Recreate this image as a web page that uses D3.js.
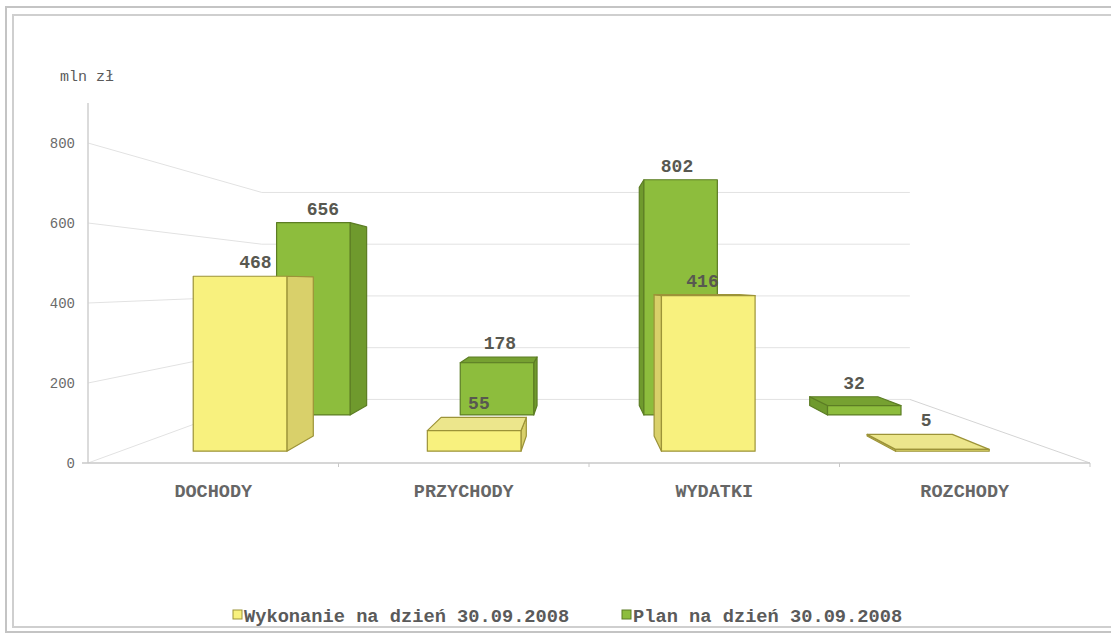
<!DOCTYPE html>
<html><head><meta charset="utf-8">
<script src="https://cdn.jsdelivr.net/npm/d3@7"></script>
<style>
html,body{margin:0;padding:0;background:#fff;}
svg{display:block;}
text{font-family:"Courier New","Liberation Mono",monospace;}
</style></head>
<body>
<svg id="chart" width="1111" height="636"></svg>
<script>
// ---- data ----
const categories = ["DOCHODY", "PRZYCHODY", "WYDATKI", "ROZCHODY"];
const seriesNames = ["Wykonanie na dzień 30.09.2008", "Plan na dzień 30.09.2008"];
const wykonanie = [468, 55, 416, 5];
const plan = [656, 178, 802, 32];
const yTicks = [0, 200, 400, 600, 800];
const unitLabel = "mln zł";

// ---- layout ----
const svg = d3.select("#chart");
const VX = 580, VY = 283;           // vanishing point
const zWall = 0.546, zDepth = 0.106;

const x = d3.scaleBand().domain(categories).range([88, 1090]);
const y = d3.scaleLinear().domain([0, 800]).range([463, 143]);
const zRow = d3.scaleOrdinal().domain(seriesNames).range([0.07, 0.364]);

function proj(X, Y, z) {
  const f = 1 / (1 + z);
  return [VX + (X - VX) * f, VY + (Y - VY) * f];
}
const poly = pts => "M" + pts.map(p => p.join(",")).join("L") + "Z";

const styles = {
  [seriesNames[0]]: {front: "#f8f17e", side: "#d9d06a", top: "#ece68c", stroke: "#9c9338"},
  [seriesNames[1]]: {front: "#8dbd3d", side: "#6f9a2d", top: "#76a131", stroke: "#5c7d24"}
};

// frame
svg.append("rect").attr("x", 6).attr("y", 7).attr("width", 1120).attr("height", 625)
  .attr("fill", "none").attr("stroke", "#c4c4c4").attr("stroke-width", 2);
svg.append("rect").attr("x", 13).attr("y", 15).attr("width", 1110).attr("height", 612)
  .attr("fill", "none").attr("stroke", "#cfcfcf").attr("stroke-width", 2);

// grid: left wall + back wall
const X0 = x.range()[0], X1 = x.range()[1];
const grid = svg.append("g").attr("stroke", "#e2e2e2").attr("stroke-width", 1).attr("fill", "none");
yTicks.forEach(t => {
  const a = proj(X0, y(t), 0), b = proj(X0, y(t), zWall), c = proj(X1, y(t), zWall);
  grid.append("path").attr("d", `M${a}L${b}L${c}`);
});
// floor right edge
const f1 = proj(X1, y(0), 0), f2 = proj(X1, y(0), zWall);
svg.append("path").attr("d", `M${f1}L${f2}`).attr("stroke", "#d4d4d4").attr("fill", "none");
// y axis line
svg.append("line").attr("x1", X0).attr("x2", X0).attr("y1", y(0)).attr("y2", y(900))
  .attr("stroke", "#cfcfcf").attr("stroke-width", 1.5);
// front floor edge
svg.append("line").attr("x1", X0 - 6).attr("x2", X1).attr("y1", y(0)).attr("y2", y(0))
  .attr("stroke", "#c8c8c8").attr("stroke-width", 1.5);
// category boundary ticks
categories.forEach((c, i) => {
  if (i === 0) return;
  svg.append("line").attr("x1", x(c)).attr("x2", x(c)).attr("y1", y(0)).attr("y2", y(0) + 4)
    .attr("stroke", "#c8c8c8");
});
svg.append("line").attr("x1", X1).attr("x2", X1).attr("y1", y(0)).attr("y2", y(0) + 4).attr("stroke", "#c8c8c8");

// y tick labels
svg.append("g").selectAll("text").data(yTicks).join("text")
  .attr("x", 75).attr("y", d => y(d)).attr("dy", "0.35em").attr("text-anchor", "end")
  .attr("font-size", 14).attr("fill", "#6a6a6a").text(d => d);
svg.append("text").attr("x", 60).attr("y", 81).attr("font-size", 15).attr("fill", "#5a5a5a").text(unitLabel);

// category labels
svg.append("g").selectAll("text").data(categories).join("text")
  .attr("x", d => x(d) + x.bandwidth() / 2).attr("y", 497).attr("text-anchor", "middle")
  .attr("font-size", 18.5).attr("font-weight", "bold").attr("fill", "#666").text(d => d);

// bars (back row first)
const rows = [
  {name: seriesNames[1], values: plan},
  {name: seriesNames[0], values: wykonanie}
];
const barW = x.bandwidth() * 0.4;
const labels = [];
rows.forEach(row => {
  const st = styles[row.name];
  const z0 = zRow(row.name), z1 = z0 + zDepth;
  const g = svg.append("g").attr("stroke", st.stroke).attr("stroke-width", 1.2).attr("stroke-linejoin", "round");
  row.values.forEach((v, i) => {
    const cx = x(categories[i]) + x.bandwidth() / 2 + 3;
    const A = cx - barW / 2, B = cx + barW / 2;
    const Yb = y(0), Yt = y(v);
    if (B < VX) {
      g.append("path").attr("fill", st.side)
        .attr("d", poly([proj(B, Yt, z0), proj(B, Yt, z1), proj(B, Yb, z1), proj(B, Yb, z0)]));
    } else if (A > VX) {
      g.append("path").attr("fill", st.side)
        .attr("d", poly([proj(A, Yt, z0), proj(A, Yt, z1), proj(A, Yb, z1), proj(A, Yb, z0)]));
    }
    if (Yt > VY) {
      g.append("path").attr("fill", st.top)
        .attr("d", poly([proj(A, Yt, z0), proj(B, Yt, z0), proj(B, Yt, z1), proj(A, Yt, z1)]));
    }
    g.append("path").attr("fill", st.front)
      .attr("d", poly([proj(A, Yt, z0), proj(B, Yt, z0), proj(B, Yb, z0), proj(A, Yb, z0)]));
    const pf = proj(cx, Yt, z0), pb = proj(cx, Yt, z1);
    labels.push({v, x: (pf[0] + pb[0]) / 2, y: Math.min(pf[1], pb[1]) - 8});
  });
});

svg.append("g").selectAll("text").data(labels).join("text")
  .attr("x", d => d.x).attr("y", d => d.y).attr("text-anchor", "middle")
  .attr("font-size", 18).attr("font-weight", "bold").attr("fill", "#585850").text(d => d.v);

// legend
const legend = svg.append("g").attr("transform", "translate(233,615)");
const legX = [0, 389];
seriesNames.forEach((s, i) => {
  const g = legend.append("g").attr("transform", `translate(${legX[i]},0)`);
  g.append("rect").attr("x", 0).attr("y", -5).attr("width", 9).attr("height", 9)
    .attr("fill", styles[s].front).attr("stroke", styles[s].stroke);
  g.append("text").attr("x", 11).attr("y", 0).attr("dy", "0.35em")
    .attr("font-size", 18.7).attr("font-weight", "bold").attr("fill", "#5a5a5a").text(s);
});
</script>
</body></html>
